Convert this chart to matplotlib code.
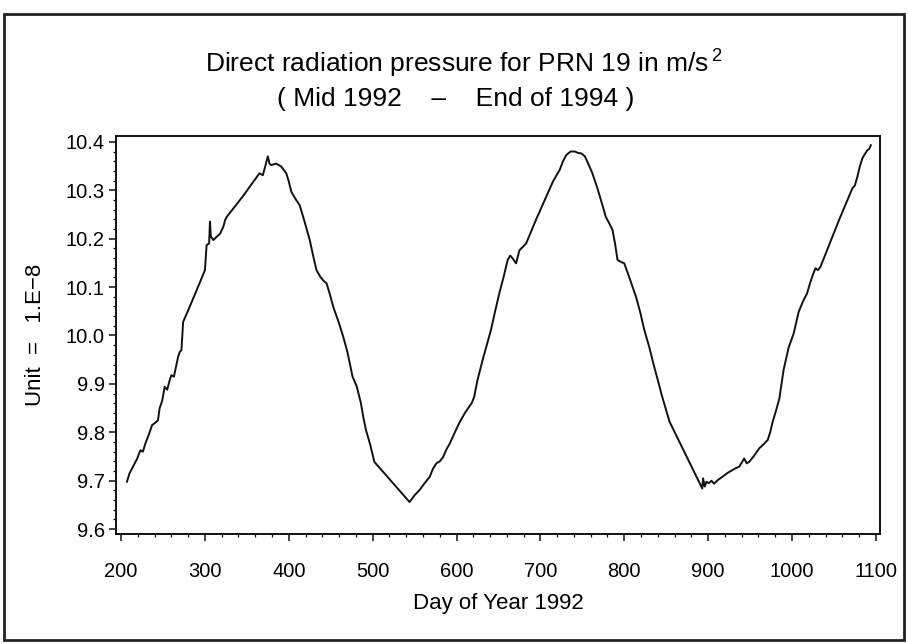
import matplotlib
matplotlib.use('Agg')
import matplotlib.pyplot as plt
from matplotlib.ticker import MultipleLocator
from matplotlib.patches import Rectangle

plt.rcParams['font.family'] = ['Liberation Sans', 'DejaVu Sans']
plt.rcParams['mathtext.fontset'] = 'custom'
plt.rcParams['mathtext.rm'] = 'Liberation Sans'

# day of year 1992 and direct radiation pressure (unit 1.E-8 m/s^2)
days = [207, 210, 213, 216, 219, 223, 226, 229, 233, 237, 241, 244, 246, 249, 252, 255,
        258, 260, 263, 266, 268, 270, 272, 274, 280, 290, 300, 302, 305, 306, 307, 310,
        314, 318, 322, 324, 326, 335, 345, 355, 365, 369, 372, 375, 377, 379, 385, 391,
        397, 400, 403, 408, 413, 418, 425, 429, 433, 438, 442, 445, 449, 453, 459, 465,
        470, 476, 481, 486, 489, 492, 497, 502, 544, 550, 556, 562, 568, 572, 576, 580,
        584, 588, 592, 598, 604, 610, 615, 618, 621, 625, 632, 641, 646, 651, 656, 661,
        664, 667, 671, 675, 683, 695, 707, 715, 723, 727, 731, 736, 741, 745, 749, 753,
        756, 762, 768, 773, 778, 782, 786, 789, 792, 796, 800, 805, 810, 814, 819, 824,
        830, 835, 840, 845, 850, 854, 893, 894, 896, 898, 901, 904, 907, 912, 917, 923,
        929, 933, 937, 941, 943, 946, 949, 955, 961, 966, 971, 974, 977, 981, 985, 990,
        996, 1002, 1008, 1013, 1018, 1021, 1024, 1028, 1031, 1034, 1045, 1056, 1064, 1072,
        1075, 1078, 1081, 1084, 1087, 1090, 1092, 1094]
pressure = [9.698, 9.715, 9.725, 9.735, 9.745, 9.763, 9.760, 9.777, 9.795, 9.815, 9.820,
            9.825, 9.850, 9.865, 9.894, 9.888, 9.908, 9.918, 9.915, 9.940, 9.956, 9.966,
            9.970, 10.028, 10.052, 10.093, 10.135, 10.187, 10.190, 10.235, 10.205, 10.197,
            10.204, 10.210, 10.225, 10.238, 10.245, 10.265, 10.287, 10.311, 10.335, 10.331,
            10.350, 10.370, 10.355, 10.352, 10.355, 10.349, 10.335, 10.318, 10.297, 10.282,
            10.269, 10.240, 10.197, 10.165, 10.135, 10.120, 10.112, 10.108, 10.085, 10.059,
            10.030, 9.997, 9.965, 9.915, 9.895, 9.860, 9.830, 9.805, 9.775, 9.739, 9.656,
            9.670, 9.681, 9.695, 9.708, 9.725, 9.736, 9.740, 9.749, 9.765, 9.777, 9.800,
            9.822, 9.840, 9.853, 9.860, 9.873, 9.908, 9.955, 10.011, 10.050, 10.087, 10.120,
            10.156, 10.165, 10.159, 10.149, 10.176, 10.190, 10.240, 10.287, 10.318, 10.342,
            10.360, 10.373, 10.380, 10.380, 10.377, 10.376, 10.370, 10.359, 10.335, 10.304,
            10.275, 10.245, 10.232, 10.218, 10.190, 10.156, 10.152, 10.149, 10.125, 10.100,
            10.080, 10.048, 10.011, 9.975, 9.940, 9.908, 9.875, 9.846, 9.822, 9.684, 9.705,
            9.688, 9.698, 9.695, 9.700, 9.694, 9.702, 9.708, 9.716, 9.722, 9.726, 9.729,
            9.740, 9.746, 9.736, 9.739, 9.752, 9.767, 9.775, 9.784, 9.800, 9.822, 9.845,
            9.870, 9.929, 9.975, 10.004, 10.049, 10.070, 10.087, 10.105, 10.121, 10.139,
            10.135, 10.142, 10.190, 10.238, 10.271, 10.304, 10.310, 10.328, 10.350, 10.366,
            10.375, 10.383, 10.385, 10.393]

xticks = [200, 300, 400, 500, 600, 700, 800, 900, 1000, 1100]
yticks = [9.6, 9.7, 9.8, 9.9, 10.0, 10.1, 10.2, 10.3, 10.4]

fig = plt.figure(figsize=(9.08, 6.44), dpi=100)
ax = fig.add_axes([0.1278, 0.1708, 0.8414, 0.618])

ax.plot(days, pressure, color='#111111', lw=1.4)

ax.set_xlim(194, 1105)
ax.set_ylim(9.59, 10.412)
ax.set_xticks(xticks)
ax.set_yticks(yticks)
ax.set_yticklabels(['%.1f' % v for v in yticks])
ax.xaxis.set_minor_locator(MultipleLocator(20))
ax.yaxis.set_minor_locator(MultipleLocator(0.02))
ax.tick_params(axis='both', which='major', direction='out', length=5, width=1.1,
               labelsize=14.5, color='#111111')
ax.tick_params(axis='both', which='minor', direction='out', length=2.5, width=0.9,
               color='#111111')
ax.tick_params(axis='x', which='major', pad=15)
ax.tick_params(axis='y', which='major', pad=3)
for s in ax.spines.values():
    s.set_linewidth(1.4)
    s.set_color('#111111')

ax.set_xlabel('Day of Year 1992', fontsize=16, labelpad=9)
ax.set_ylabel('Unit  =   1.E\u22128', fontsize=16, labelpad=14)

fig.text(0.511, 0.903, r'Direct radiation pressure for PRN 19 in m/s$^{\,2}$',
         ha='center', va='center', fontsize=19)
fig.text(0.502, 0.847, '( Mid 1992    \u2013    End of 1994 )',
         ha='center', va='center', fontsize=19)

fig.patches.append(Rectangle((0.004, 0.006), 0.992, 0.972, transform=fig.transFigure,
                             fill=False, lw=2, edgecolor='#222222'))

fig.savefig('out.png', dpi=100)
